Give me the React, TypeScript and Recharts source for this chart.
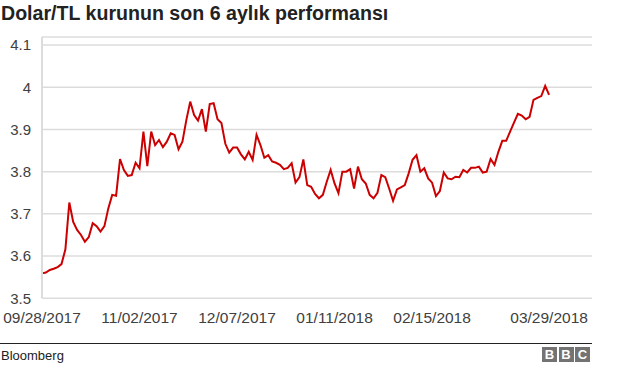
import React from "react";
import { LineChart, Line, XAxis, YAxis, CartesianGrid } from "recharts";

const title = "Dolar/TL kurunun son 6 aylık performansı";
const source = "Bloomberg";

// One value per trading day, 09/28/2017 .. 03/29/2018
const values: number[] = [
  3.559, 3.561, 3.567, 3.570, 3.574, 3.581, 3.616, 3.727, 3.681, 3.662,
  3.650, 3.634, 3.645, 3.678, 3.671, 3.658, 3.671, 3.713, 3.745, 3.743,
  3.830, 3.804, 3.790, 3.792, 3.821, 3.808, 3.895, 3.813, 3.895, 3.863,
  3.875, 3.858, 3.871, 3.891, 3.887, 3.853, 3.871, 3.922, 3.966, 3.934,
  3.921, 3.948, 3.895, 3.960, 3.962, 3.924, 3.915, 3.866, 3.845, 3.857,
  3.857, 3.841, 3.829, 3.847, 3.828, 3.887, 3.863, 3.833, 3.839, 3.824,
  3.821, 3.816, 3.806, 3.809, 3.820, 3.774, 3.787, 3.829, 3.768, 3.764,
  3.747, 3.737, 3.745, 3.776, 3.804, 3.772, 3.749, 3.800, 3.800, 3.806,
  3.760, 3.812, 3.782, 3.772, 3.745, 3.737, 3.750, 3.792, 3.787, 3.760,
  3.731, 3.758, 3.763, 3.768, 3.796, 3.828, 3.839, 3.800, 3.808, 3.784,
  3.774, 3.742, 3.754, 3.798, 3.784, 3.782, 3.788, 3.787, 3.804, 3.798,
  3.809, 3.809, 3.812, 3.798, 3.800, 3.830, 3.816, 3.847, 3.873, 3.873,
  3.895, 3.916, 3.937, 3.933, 3.924, 3.930, 3.970, 3.975, 3.979, 4.003,
  3.982,
];

const tickIndices: number[] = [0, 25, 50, 75, 100, 130];
const tickLabels: string[] = [
  "09/28/2017",
  "11/02/2017",
  "12/07/2017",
  "01/11/2018",
  "02/15/2018",
  "03/29/2018",
];
const yTicks: number[] = [3.5, 3.6, 3.7, 3.8, 3.9, 4.0, 4.1];

const data = values.map((v, i) => ({ i, v }));

const FONT = '"Liberation Sans", Arial, Helvetica, sans-serif';

export default function App() {
  return (
    <div
      style={{
        position: "relative",
        width: 624,
        height: 367,
        background: "#fff",
        fontFamily: FONT,
        overflow: "hidden",
      }}
    >
      <style>{`body{margin:0;}`}</style>
      <div
        style={{
          position: "absolute",
          left: 1,
          top: 2.5,
          fontSize: 19.6,
          lineHeight: "20px",
          fontWeight: "bold",
          color: "#222",
          whiteSpace: "nowrap",
        }}
      >
        {title}
      </div>
      <div style={{ position: "absolute", left: 0, top: 0 }}>
        <LineChart
          width={624}
          height={340}
          data={data}
          margin={{ top: 37, right: 32, left: 0, bottom: 10 }}
        >
          <CartesianGrid
            vertical={false}
            stroke="#dcdcdc"
            strokeWidth={1.5}
          />
          <XAxis
            type="number"
            dataKey="i"
            domain={[0, 141]}
            ticks={tickIndices}
            interval={0}
            tickFormatter={(t: number) => tickLabels[tickIndices.indexOf(t)] ?? ""}
            axisLine={false}
            tickLine={false}
            tickSize={0}
            tickMargin={13.5}
            height={31.7}
            tick={{ fill: "#404040", fontSize: 15.5, fontFamily: FONT }}
          />
          <YAxis
            type="number"
            domain={[3.5, 4.119]}
            ticks={yTicks}
            interval={0}
            tickFormatter={(t: number) => String(Number(t.toFixed(1)))}
            axisLine={{ stroke: "#dcdcdc", strokeWidth: 2 }}
            tickLine={false}
            tickSize={0}
            tickMargin={11}
            width={42}
            tick={{ fill: "#404040", fontSize: 15, fontFamily: FONT }}
          />
          <Line
            type="linear"
            dataKey="v"
            stroke="#cc0000"
            strokeWidth={2}
            dot={false}
            isAnimationActive={false}
          />
        </LineChart>
      </div>
      <div
        style={{
          position: "absolute",
          left: 0,
          top: 343,
          width: 592,
          height: 1,
          background: "#222",
        }}
      />
      <div
        style={{
          position: "absolute",
          left: 1,
          top: 348.5,
          fontSize: 13,
          lineHeight: "13px",
          color: "#222",
        }}
      >
        {source}
      </div>
      {["B", "B", "C"].map((ch, k) => (
        <div
          key={k}
          style={{
            position: "absolute",
            left: 542 + k * 16.5,
            top: 347,
            width: 15,
            height: 15,
            background: "#737373",
            color: "#fff",
            fontWeight: "bold",
            fontSize: 13,
            lineHeight: "15px",
            textAlign: "center",
          }}
        >
          {ch}
        </div>
      ))}
    </div>
  );
}
